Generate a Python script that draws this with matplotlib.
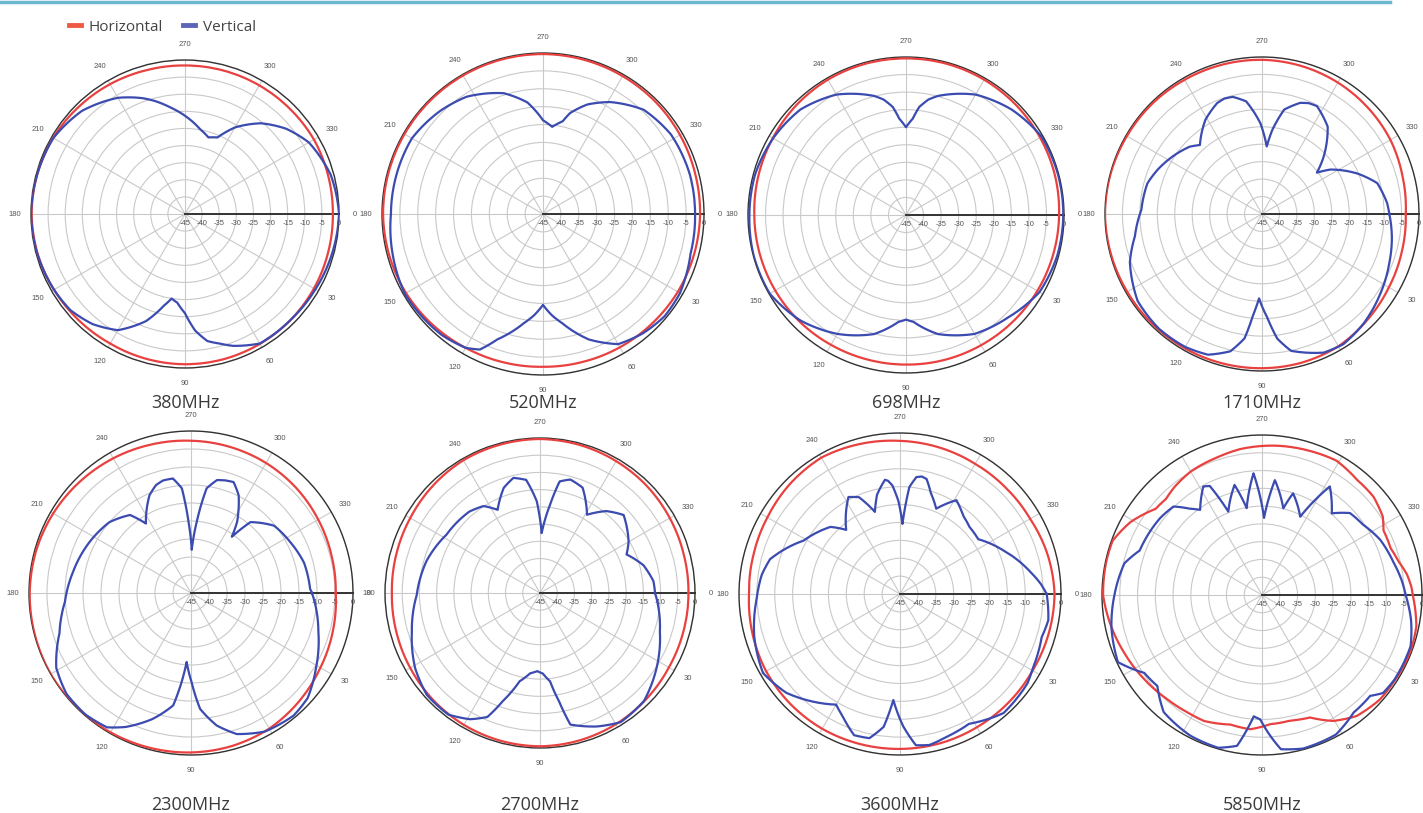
import numpy as np
import matplotlib
matplotlib.use('Agg')
import matplotlib.pyplot as plt
from matplotlib.lines import Line2D
from matplotlib.transforms import offset_copy

# >>>>>>>>>>>>> radiation patterns, angle in deg / gain in dB <<<<<<<<<<<<< #

freq_labels = ['380MHz', '520MHz', '698MHz', '1710MHz',
               '2300MHz', '2700MHz', '3600MHz', '5850MHz']

step15 = list(range(0, 360, 15))

# Horizontal (red)
h380_db = [-1.8, -1.7, -1.5, -1.3, -1.2, -1.1, -1.1, -1.2, -1.3, -1.1, -0.8, -0.4,
           -0.2, -0.3, -0.5, -0.9, -1.2, -1.5, -1.6, -1.6, -1.6, -1.6, -1.5, -1.7]
h520_db = [-1.1, -1.3, -1.5, -1.8, -2.0, -2.2, -2.3, -2.1, -1.8, -1.3, -0.8, -0.5,
           -0.3, -0.3, -0.3, -0.3, -0.3, -0.3, -0.3, -0.4, -0.5, -0.6, -0.8, -1.0]
h698_db = [-1.4, -1.6, -1.8, -2.0, -2.2, -2.3, -2.4, -2.4, -2.3, -2.1, -2.0, -1.9,
           -1.8, -1.5, -1.2, -0.8, -0.5, -0.4, -0.4, -0.4, -0.5, -0.7, -0.9, -1.1]
h1710_db = [-3.8, -3.5, -3.0, -2.2, -1.2, -0.9, -0.8, -0.7, -0.6, -0.5, -0.4, -0.2,
            0.0, -0.1, -0.3, -0.4, -0.6, -0.7, -0.8, -1.1, -1.5, -2.0, -2.5, -3.3]
h2300_db = [-4.8, -4.2, -3.5, -2.5, -1.5, -1.0, -0.7, -0.5, -0.3, -0.1, 0.0, -0.1,
            -0.2, -0.4, -0.8, -1.3, -1.8, -2.3, -2.7, -3.0, -3.3, -3.7, -4.2, -4.6]
h2700_db = [-1.9, -1.9, -1.8, -1.4, -1.0, -0.7, -0.5, -0.6, -0.8, -1.1, -1.5, -1.8,
            -2.0, -1.8, -1.5, -1.0, -0.5, -0.4, -0.3, -0.5, -0.8, -1.1, -1.5, -1.8]
h3600_db = [-1.8, -2.0, -2.2, -2.1, -2.0, -1.8, -1.7, -1.6, -1.5, -1.6, -1.8, -2.3,
            -2.8, -2.6, -2.2, -1.5, -1.0, -1.6, -2.2, -2.6, -3.0, -3.1, -3.0, -2.3]
h5850_ang = [0, 11.5, 21, 32.6, 41.6, 52, 60.5, 68.6, 77.4, 86.3, 95, 103.7, 114.7,
             122.4, 132, 144.3, 157, 168, 180, 192.6, 200, 209, 219, 225, 231, 240,
             252, 261.6, 275.7, 288.4, 299, 309.6, 318.6, 327, 332, 340, 346, 352, 357]
h5850_db = [-2.6, -0.7, -0.3, -0.6, -0.7, -1.8, -4.3, -8.0, -8.8, -8.6, -7.1, -7.5, -6.0,
            -5.9, -5.4, -4.3, -3.0, -1.7, -0.3, -0.2, -0.3, -2.7, -6.5, -6.8, -5.9, -4.9,
            -4.3, -3.5, -2.8, -2.3, -1.8, -3.0, -3.2, -4.5, -6.3, -6.5, -5.5, -3.8, -2.9]

# Vertical (blue)
v380_ang = [0, 15, 30, 45, 60, 70, 75, 80, 85, 90, 95, 99, 103, 110, 120, 130, 140, 150,
            165, 180, 195, 210, 225, 240, 250, 255, 262, 270, 280, 287, 293, 300, 310,
            320, 330, 345]
v380_db = [0, -0.5, -1, -1.3, -1.3, -4, -5.8, -7.3, -10.8, -16, -19, -20, -17.5, -11.7,
           -5.8, -3, -1.3, -0.8, -0.3, 0, -0.3, -0.6, -2.4, -5.8, -9, -10.8, -13.5, -16.3,
           -19.8, -21.6, -20.7, -15.8, -10.4, -6.3, -3.2, -0.9]
v520_ang = [0, 15, 30, 40, 50, 60, 70, 80, 85, 90, 95, 100, 110, 115, 120, 130, 150, 165,
            180, 195, 210, 225, 237, 252, 262, 270, 276, 282, 285, 292, 301, 314, 328, 345]
v520_db = [-2.5, -2.3, -0.8, -0.6, -1.5, -3, -7.7, -14, -16.6, -19.6, -16.6, -14, -7.7,
           -3.2, -1.8, -0.9, -0.4, -1.5, -2.5, -2.6, -2.7, -4.3, -5.9, -9.5, -13.5, -18.8,
           -20.5, -18.5, -15.8, -12, -8.5, -4.5, -2.9, -2.5]
v698_ang = [0, 15, 30, 45, 60, 75, 82, 86, 90, 94, 98, 105, 120, 135, 150, 165, 180, 195,
            210, 225, 240, 255, 259, 263, 266, 270, 274, 277, 281, 285, 300, 315, 330, 345]
v698_db = [-0.2, -0.4, -1.1, -3.8, -5.9, -9.9, -12.8, -14.5, -15.2, -14.5, -12.8, -9.9,
           -5.9, -2.5, -0.2, -0.1, -0.4, -0.5, -1.3, -2.5, -5.4, -9.9, -11.5, -14, -17.5,
           -20, -17.5, -14, -11.5, -9.9, -5.4, -2.5, -0.4, -0.2]
v1710_ang = [0, 10, 21, 34, 47, 58, 66, 78, 83, 87, 92, 95, 98, 103, 111, 120, 132, 145,
             160, 170, 182, 195, 203, 215, 223, 228, 239, 248, 252, 256, 262, 269, 274,
             277, 282, 289, 293, 297, 307, 317, 323, 327, 337, 345, 355]
v1710_db = [-8.5, -7.2, -5.9, -4.1, -2.2, -1, -1.5, -4.9, -9, -15.2, -20.8, -16, -9, -4.6,
            -1.8, -1, -0.8, -1.5, -4.7, -8, -10.4, -11, -12.5, -15, -16.7, -18.4, -13.5,
            -10.7, -10.2, -10.4, -12.4, -19, -25.6, -20.7, -14.4, -11.3, -10.5, -10.3,
            -13.7, -20.8, -25.3, -21.6, -15.3, -10.8, -9]
v2300_ang = [0, 17, 31, 42, 50, 62, 72, 79, 85.5, 89.6, 93.6, 96, 99, 107, 116, 122, 131,
             141, 151, 163, 176, 190, 207, 221, 232, 237, 247, 252, 256, 261, 265, 268,
             271, 274.6, 278.5, 283, 287, 291, 296, 303, 306, 310, 321, 333, 345, 358]
v2300_db = [-11.4, -8, -4.5, -1.4, -0.6, -1.4, -3.8, -7.5, -12.7, -20.2, -25.8, -20.2,
            -13.4, -8.4, -3.6, -1, -0.3, -0.5, -2.2, -6.8, -9.9, -11.7, -13.5, -15, -17.5,
            -22, -15.5, -13.5, -12.8, -12.8, -15.8, -25.2, -33, -25.2, -15.6, -12.8,
            -12.3, -12, -14.8, -21.5, -25.7, -19.3, -15.3, -14, -12.5, -11.9]
v2700_ang = [0, 18, 33, 46, 58, 67, 77, 80, 83.5, 88, 92, 97, 103, 109, 113, 119, 127,
             138, 149, 163, 179, 196, 212, 229, 237, 243, 251, 257, 263, 268, 271.6,
             276.5, 280, 285, 292, 301, 309, 317, 330, 336, 345, 354]
v2700_db = [-11.6, -8.4, -4.7, -1.5, -0.8, -2.9, -5.8, -13, -19.2, -21.6, -22.3, -21.5,
            -18.7, -11.8, -5.9, -3.1, -0.8, -0.8, -2.7, -6.1, -9.2, -10.8, -13, -13.7,
            -14.9, -17.9, -12.7, -10.7, -11.9, -18.4, -27.6, -19.2, -12.1, -10.9, -12,
            -18.5, -14.4, -11.8, -15.3, -17.5, -13.9, -11.9]
v3600_ang = [0, 10, 17, 29, 35, 49, 62, 72, 79, 84, 88.6, 93.6, 97, 102, 108, 115, 120,
             129, 139, 150, 164, 178, 188, 195, 209, 224, 230, 242, 247, 253, 257, 262.5,
             264, 266, 269, 272, 275, 278, 280.5, 283, 287, 293, 301, 309, 316, 325, 337,
             350, 356]
v3600_db = [-4, -2.9, -3.6, -2.5, -1.5, -0.9, -3.9, -3, -2, -2.5, -8, -15.3, -7.6, -3.8,
            -3.5, -7.2, -9.3, -6.3, -2.9, -0.8, -2.6, -4.9, -6, -7.4, -14.2, -18, -21.6,
            -14.3, -15.6, -21, -16.5, -12.8, -13.2, -14.6, -19, -25.4, -15, -12, -11.6,
            -12, -15.5, -19.1, -14.4, -16.9, -18, -18.3, -13.7, -8.2, -5.5]
v5850_ang = [0, 9.5, 19, 32.6, 39, 43, 52, 62, 75, 83, 86.6, 90.8, 93.9, 96.3, 99.4, 106,
             117, 130, 139, 146.5, 155, 168, 180, 193, 200, 217, 225, 230, 234, 241.6,
             244.4, 248, 256, 260, 266, 271.5, 276.4, 283.8, 287, 296, 302, 310.5, 317,
             325, 335, 346, 354]
v5850_db = [-4.6, -2.5, -0.8, -0.8, -1.2, -3.4, -3.1, -0.6, -0.3, -1.3, -5.3, -10, -10.8,
            -7, -2, -0.3, -0.6, -2, -6, -5.3, -0.3, -1.7, -3.5, -5.3, -8.4, -9.1, -9.8,
            -13.3, -15.4, -10.3, -11, -19.7, -13.1, -20.2, -10.7, -23.3, -12.5, -19.9,
            -15.1, -20.5, -9, -14.8, -11.2, -10.4, -8.3, -6.9, -5.5]

horiz = [(step15, h380_db), (step15, h520_db), (step15, h698_db), (step15, h1710_db),
         (step15, h2300_db), (step15, h2700_db), (step15, h3600_db), (h5850_ang, h5850_db)]
vert = [(v380_ang, v380_db), (v520_ang, v520_db), (v698_ang, v698_db),
        (v1710_ang, v1710_db), (v2300_ang, v2300_db), (v2700_ang, v2700_db),
        (v3600_ang, v3600_db), (v5850_ang, v5850_db)]

angle_ticks = list(range(0, 360, 30))
ring_ticks = list(range(-45, 1, 5))

# >>>>>>>>>>>>> layout (pixels): centre x, centre y, radius, label y <<<<<<<<<<<<< #
W, H = 1423, 813
layout = [(185, 214, 154, 403), (543, 214, 161, 403), (906, 215, 158, 403),
          (1262, 214, 157, 403), (191, 593, 162, 805), (540, 593, 155, 805),
          (900, 594, 161, 805), (1262, 595, 160, 805)]

RedC = '#e8413f'
BlueC = '#3b4bb0'
LineW = 1.6

plt.rcParams['font.family'] = ['Liberation Sans', 'DejaVu Sans']

fig = plt.figure(figsize=(W / 100, H / 100), dpi=100)


def closed(ang, db):
    a = np.deg2rad(np.append(ang, ang[0] + 360))
    d = np.append(db, db[0])
    return a, d


for i, (cx, cy, R, ly) in enumerate(layout):
    ax = fig.add_axes([(cx - R) / W, 1 - (cy + R) / H, 2 * R / W, 2 * R / H],
                      projection='polar')
    ax.set_theta_zero_location('E')
    ax.set_theta_direction(-1)
    ax.set_ylim(-45, 0)
    ax.set_yticks(ring_ticks)
    ax.set_yticklabels([])
    ax.set_xticks(np.deg2rad(angle_ticks))
    ax.set_xticklabels([str(a) for a in angle_ticks])
    ax.tick_params(axis='x', labelsize=5.5, labelcolor='#555555', pad=1)
    ax.grid(color='#c9c9c9', linewidth=0.8)
    ax.spines['polar'].set_color('#333333')
    ax.spines['polar'].set_linewidth(1.0)

    # 0 deg radial axis line with dB labels under it
    ax.plot([0, 0], [-45, 0], color='#333333', linewidth=1.4, zorder=3)
    trans = offset_copy(ax.transData, fig=fig, x=0, y=-4, units='points')
    for r in ring_ticks:
        ax.text(0, r, str(r), transform=trans, ha='center', va='top',
                fontsize=5.5, color='#555555')

    # draw segments as polar curves (linear in angle and radius)
    a, d = closed(*horiz[i])
    ln, = ax.plot(a, d, color=RedC, linewidth=LineW, zorder=4)
    ln.get_path()._interpolation_steps = 16
    a, d = closed(*vert[i])
    ln, = ax.plot(a, d, color=BlueC, linewidth=LineW, zorder=5)
    ln.get_path()._interpolation_steps = 16

    fig.text(cx / W, 1 - ly / H, freq_labels[i], ha='center', va='center',
             fontsize=13, color='#3a3a3a', family='Open Sans')

# top rule
fig.add_artist(Line2D([0, 1390 / W], [1 - 2 / H, 1 - 2 / H], color='#6cb8cf',
                      linewidth=2.5, transform=fig.transFigure))

handles = [Line2D([], [], color='#ef5a45', linewidth=3.5),
           Line2D([], [], color='#5c66b8', linewidth=3.5)]
leg = fig.legend(handles, ['Horizontal', 'Vertical'], loc='upper left',
                 bbox_to_anchor=(55 / W, 1 - 6 / H), ncol=2, frameon=False,
                 handlelength=0.8, handletextpad=0.5, columnspacing=1.3,
                 prop={'family': 'Open Sans', 'size': 11})
for t in leg.get_texts():
    t.set_color('#444444')

fig.savefig('out.png', dpi=100)
